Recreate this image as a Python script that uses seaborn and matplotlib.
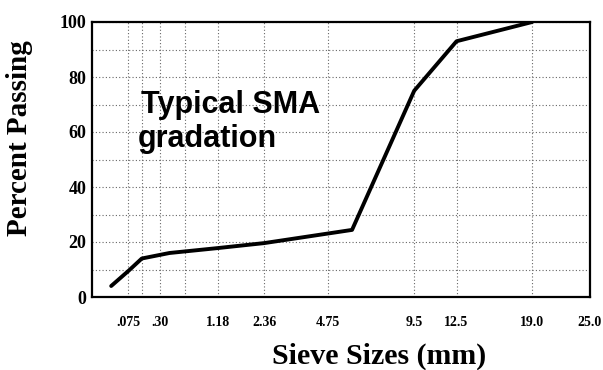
import numpy as np
import matplotlib
matplotlib.use("Agg")
import matplotlib.pyplot as plt
import seaborn as sns

# Gradation curve: sieve opening (mm) vs. percent passing
sieve_mm = [0.018, 0.075, 0.15, 0.40, 1.18, 2.36, 5.9, 9.5, 12.5, 19.0]
percent_passing = [4.0, 9.5, 14.0, 16.0, 17.8, 19.6, 24.4, 75.0, 93.0, 100.0]

# Sieve sizes shown on the axis and the grid lines of the chart
tick_sieves = [0.075, 0.30, 1.18, 2.36, 4.75, 9.5, 12.5, 19.0, 25.0]
tick_labels = [".075", ".30", "1.18", "2.36", "4.75", "9.5", "12.5", "19.0", "25.0"]
extra_grid_sieves = [0.15, 0.60]
y_ticks = [0, 20, 40, 60, 80, 100]
y_grid = [10, 30, 50, 70, 90]

sns.set_style("white")
plt.rcParams["text.color"] = "black"
plt.rcParams["axes.labelcolor"] = "black"
plt.rcParams["xtick.color"] = "black"
plt.rcParams["ytick.color"] = "black"
serif = ["Liberation Serif", "DejaVu Serif"]
sans = ["Liberation Sans", "DejaVu Sans"]

fig = plt.figure(figsize=(6.03, 3.70), dpi=100)
ax = fig.add_axes([92 / 603, 73 / 370, 498 / 603, 275 / 370])

# 0.45 power scale used for aggregate gradation charts
power = 0.45
ax.set_xscale("function",
              functions=(lambda v: np.power(np.clip(v, 0, None), power),
                         lambda v: np.power(np.clip(v, 0, None), 1 / power)))

sns.lineplot(x=sieve_mm, y=percent_passing, ax=ax, color="black",
             linewidth=2.8, sort=False, estimator=None)

ax.set_xlim(0, 25)
ax.set_ylim(0, 100)

ax.set_xticks(tick_sieves)
ax.set_xticklabels(tick_labels)
ax.set_xticks(extra_grid_sieves, minor=True)
ax.set_yticks(y_ticks)
ax.set_yticks(y_grid, minor=True)

ax.grid(True, which="both", color="#666666", linestyle=(0, (1, 2)), linewidth=0.8)
ax.tick_params(axis="both", which="both", length=0)
ax.tick_params(axis="x", pad=14)
ax.tick_params(axis="y", pad=4)

for lbl in ax.get_xticklabels():
    lbl.set_fontfamily(serif)
    lbl.set_fontweight("bold")
    lbl.set_fontsize(10)
for lbl in ax.get_yticklabels():
    lbl.set_fontfamily(serif)
    lbl.set_fontweight("bold")
    lbl.set_fontsize(13)

for side in ["left", "right", "bottom", "top"]:
    ax.spines[side].set_visible(True)
    ax.spines[side].set_color("black")
    ax.spines[side].set_linewidth(1.6)

ax.set_xlabel("Sieve Sizes (mm)", fontfamily=serif, fontweight="bold", fontsize=21.5)
ax.xaxis.set_label_coords(0.576, -0.165)
ax.set_ylabel("Percent Passing", fontfamily=serif, fontweight="bold", fontsize=21)
ax.yaxis.set_label_coords(-0.118, 0.578)

ax.text(0.098, 0.669, "Typical SMA", transform=ax.transAxes, ha="left",
        va="baseline", fontfamily=sans, fontweight="bold", fontsize=22,
        color="black")
ax.text(0.092, 0.545, "gradation", transform=ax.transAxes, ha="left",
        va="baseline", fontfamily=sans, fontweight="bold", fontsize=22,
        color="black")

fig.savefig("out.png", dpi=100)
